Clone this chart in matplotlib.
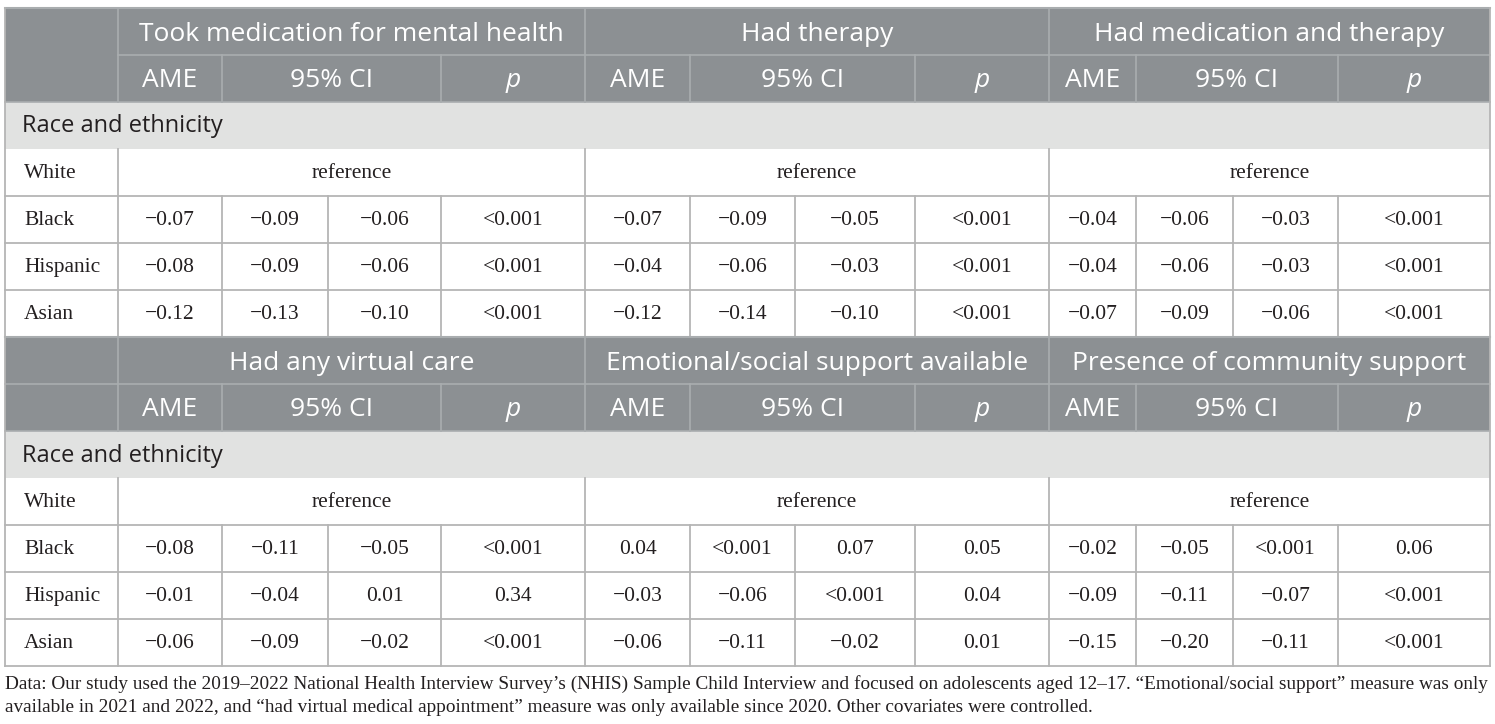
import matplotlib.pyplot as plt
from matplotlib.patches import Rectangle

# datos de la tabla
outcomes_top = ['Took medication for mental health', 'Had therapy', 'Had medication and therapy']
outcomes_bottom = ['Had any virtual care', 'Emotional/social support available',
                   'Presence of community support']
groups = ['White', 'Black', 'Hispanic', 'Asian']
section = 'Race and ethnicity'

# AME, CI bajo, CI alto, p  (por fila: Black, Hispanic, Asian)
top_values = [
    ['−0.07', '−0.09', '−0.06', '<0.001', '−0.07', '−0.09', '−0.05', '<0.001', '−0.04', '−0.06', '−0.03', '<0.001'],
    ['−0.08', '−0.09', '−0.06', '<0.001', '−0.04', '−0.06', '−0.03', '<0.001', '−0.04', '−0.06', '−0.03', '<0.001'],
    ['−0.12', '−0.13', '−0.10', '<0.001', '−0.12', '−0.14', '−0.10', '<0.001', '−0.07', '−0.09', '−0.06', '<0.001'],
]
bottom_values = [
    ['−0.08', '−0.11', '−0.05', '<0.001', '0.04', '<0.001', '0.07', '0.05', '−0.02', '−0.05', '<0.001', '0.06'],
    ['−0.01', '−0.04', '0.01', '0.34', '−0.03', '−0.06', '<0.001', '0.04', '−0.09', '−0.11', '−0.07', '<0.001'],
    ['−0.06', '−0.09', '−0.02', '<0.001', '−0.06', '−0.11', '−0.02', '0.01', '−0.15', '−0.20', '−0.11', '<0.001'],
]
footnote = [
    'Data: Our study used the 2019–2022 National Health Interview Survey’s (NHIS) Sample Child Interview and focused on adolescents aged 12–17. “Emotional/social support” measure was only',
    'available in 2021 and 2022, and “had virtual medical appointment” measure was only available since 2020. Other covariates were controlled.',
]

# geometria en pixeles
xs = [5, 118, 222, 328, 441, 585, 690, 795, 915, 1049, 1136, 1233, 1338, 1490]
row_h = 47
dark = '#8c9093'
light = '#e1e2e1'
hline = '#a9adaf'
grid = '#b5b5b5'
sans = ['Open Sans', 'DejaVu Sans']
serif = ['Liberation Serif', 'DejaVu Serif']

fig = plt.figure(figsize=(14.95, 7.24), dpi=100)
ax = fig.add_axes([0, 0, 1, 1])
ax.set_xlim(0, 1495)
ax.set_ylim(724, 0)
ax.axis('off')


def block(y0, outcomes, values, first):
    x0, x1 = xs[0], xs[-1]
    # cabecera oscura
    ax.add_patch(Rectangle((x0, y0), x1 - x0, 2 * row_h, color=dark, lw=0))
    ax.add_patch(Rectangle((x0, y0 + 2 * row_h), x1 - x0, row_h, color=light, lw=0))
    # lineas de la cabecera
    ax.plot([x0, x1], [y0, y0], color=hline, lw=1.5)
    start = xs[1] if first else x0
    ax.plot([start, x1], [y0 + row_h, y0 + row_h], color=hline, lw=1.2)
    ax.plot([x0, x1], [y0 + 2 * row_h, y0 + 2 * row_h], color=hline, lw=1.2)
    for k in range(3):
        xa = xs[1 + 4 * k]
        ax.plot([xa, xa], [y0, y0 + 2 * row_h], color=hline, lw=1.2)
        for j in (1, 3):
            ax.plot([xs[1 + 4 * k + j]] * 2, [y0 + row_h, y0 + 2 * row_h], color=hline, lw=1.2)
        xb = xs[5 + 4 * k]
        ax.text((xa + xb) / 2, y0 + row_h / 2 + 3, outcomes[k], ha='center', va='center',
                color='white', fontsize=19, family=sans)
        sub = [(xs[1 + 4 * k], xs[2 + 4 * k], 'AME', 'normal'),
               (xs[2 + 4 * k], xs[4 + 4 * k], '95% CI', 'normal'),
               (xs[4 + 4 * k], xs[5 + 4 * k], 'p', 'italic')]
        for a, b, s, st in sub:
            ax.text((a + b) / 2, y0 + 1.5 * row_h + 2, s, ha='center', va='center',
                    color='white', fontsize=19, family=sans, style=st)
    ax.text(x0 + 17, y0 + 2.5 * row_h + 1, section, ha='left', va='center',
            color='#231f20', fontsize=17, family=sans)

    # filas de datos
    yb = y0 + 3 * row_h
    for i, g in enumerate(groups):
        yt = yb + i * row_h
        ax.text(x0 + 19, yt + row_h / 2 + 1, g, ha='left', va='center',
                color='#231f20', fontsize=15.5, family=serif)
        if i == 0:
            for k in range(3):
                ax.text((xs[1 + 4 * k] + xs[5 + 4 * k]) / 2, yt + row_h / 2 + 1, 'reference',
                        ha='center', va='center', color='#231f20', fontsize=15.5, family=serif)
        else:
            for j, v in enumerate(values[i - 1]):
                ax.text((xs[1 + j] + xs[2 + j]) / 2, yt + row_h / 2 + 1, v, ha='center',
                        va='center', color='#231f20', fontsize=15.5, family=serif)
        ax.plot([x0, x1], [yt + row_h, yt + row_h], color=grid, lw=1.3)
    # lineas verticales del cuerpo
    y_end = yb + len(groups) * row_h
    ax.plot([x0, x0], [y0, y_end], color=grid, lw=1.3)
    ax.plot([x1, x1], [y0, y_end], color=grid, lw=1.3)
    for c, x in enumerate(xs[1:-1], start=1):
        if (c - 1) % 4 == 0:
            ax.plot([x, x], [yb, y_end], color=grid, lw=1.3)
        else:
            ax.plot([x, x], [yb + row_h, y_end], color=grid, lw=1.3)


block(8, outcomes_top, top_values, True)
block(8 + 7 * row_h, outcomes_bottom, bottom_values, False)

for n, line in enumerate(footnote):
    ax.text(5, 684 + n * 23, line, ha='left', va='center', color='#231f20',
            fontsize=13.9, family=serif)

fig.savefig('out.png', dpi=100)
